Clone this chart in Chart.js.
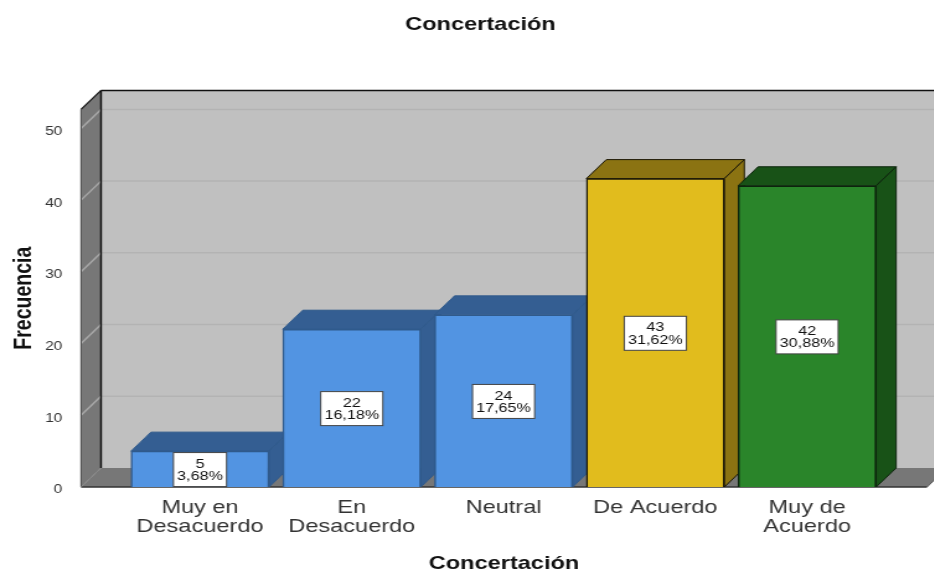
<!DOCTYPE html>
<html lang="es">
<head>
<meta charset="utf-8">
<title>Concertación</title>
<script src="https://cdn.jsdelivr.net/npm/chart.js@4"></script>
<style>
  html, body { margin: 0; background: #fff; }
  #wrap { width: 934px; height: 572px; overflow: hidden; }
  /* the reference is a picture stretched sideways, so the canvas is too */
  #chart { display: block; transform: scaleX(1.24); transform-origin: 0 0; }
</style>
</head>
<body>
<div id="wrap"><canvas id="chart" width="775" height="572"></canvas></div>
<script>
// --- Data ---
const categories = [['Muy en', 'Desacuerdo'], ['En', 'Desacuerdo'], 'Neutral', 'De Acuerdo', ['Muy de', 'Acuerdo']];
const counts = [5, 22, 24, 43, 42];
const percents = ['3,68%', '16,18%', '17,65%', '31,62%', '30,88%'];
const yTicks = [0, 10, 20, 30, 40, 50];

// --- Colours ---
const frontColors = ['#5294E2', '#5294E2', '#5294E2', '#E1BC1D', '#2A852A'];
const depthColors = ['#345E92', '#345E92', '#345E92', '#8B7312', '#185217'];
const edgeColors = ['#2F5A8C', '#2F5A8C', '#2F5A8C', '#1C1806', '#0C240C'];

const STRETCH = 1.24;
const DEPTH_X = 20 / STRETCH;
const DEPTH_Y = 19;
const SIDE_PAD = 27.4; // same on both sides so the main title sits right of the page centre

function polygon(c, points, fill, stroke) {
  c.beginPath();
  points.forEach((p, i) => i ? c.lineTo(p[0], p[1]) : c.moveTo(p[0], p[1]));
  c.closePath();
  c.fillStyle = fill;
  c.fill();
  if (stroke) {
    c.strokeStyle = stroke;
    c.lineWidth = 1;
    c.stroke();
  }
}

function line(c, x1, y1, x2, y2, color, width) {
  c.beginPath();
  c.moveTo(x1, y1);
  c.lineTo(x2, y2);
  c.strokeStyle = color;
  c.lineWidth = width;
  c.stroke();
}

// Walls and floor behind the bars, built from the scales
const box3d = {
  id: 'box3d',
  beforeDatasetsDraw(chart) {
    const c = chart.ctx;
    const { left, right, top, bottom } = chart.chartArea;
    const y = chart.scales.y;
    const backL = left + DEPTH_X, backR = right + DEPTH_X;
    const backT = top - DEPTH_Y, backB = bottom - DEPTH_Y;

    c.save();
    polygon(c, [[backL, backT], [backR, backT], [backR, backB], [backL, backB]], '#C0C0C0');
    polygon(c, [[left, top], [backL, backT], [backL, backB], [left, bottom]], '#777777');
    polygon(c, [[left, bottom], [backL, backB], [backR, backB], [right, bottom]], '#777777');

    yTicks.filter(t => t > 0).forEach(t => {
      const py = y.getPixelForValue(t);
      line(c, backL, py - DEPTH_Y, backR, py - DEPTH_Y, '#B3B3B3', 1.5);
      line(c, left, py, backL, py - DEPTH_Y, '#A8A8A8', 1.5);
    });

    line(c, backL, backT, backR, backT, '#111', 1.5);
    line(c, backL, backT, backL, backB, '#111', 1.5);
    line(c, left, top, backL, backT, '#111', 1.2);
    line(c, left, top, left, bottom, '#444', 1);
    line(c, left, bottom, right, bottom, '#333', 1.5);
    line(c, left, bottom, backL, backB, '#888', 1);
    line(c, right, bottom, right + DEPTH_X, backB, '#555', 1);

    // top and side of each bar, the fronts are drawn afterwards by Chart.js
    chart.getDatasetMeta(0).data.forEach((bar, i) => {
      const l = bar.x - bar.width / 2, r = bar.x + bar.width / 2;
      polygon(c, [[l, bar.y], [l + DEPTH_X, bar.y - DEPTH_Y], [r + DEPTH_X, bar.y - DEPTH_Y], [r, bar.y]], depthColors[i], edgeColors[i]);
      polygon(c, [[r, bar.y], [r + DEPTH_X, bar.y - DEPTH_Y], [r + DEPTH_X, bottom - DEPTH_Y], [r, bottom]], depthColors[i], edgeColors[i]);
    });
    c.restore();
  }
};

// White value boxes in the middle of the bars
const valueBoxes = {
  id: 'valueBoxes',
  afterDatasetsDraw(chart) {
    const c = chart.ctx;
    c.save();
    c.font = '13px "Liberation Sans", Arial, sans-serif';
    c.textAlign = 'center';
    c.textBaseline = 'middle';
    chart.getDatasetMeta(0).data.forEach((bar, i) => {
      const w = c.measureText(percents[i]).width + 6;
      const h = 34;
      const cy = (bar.y + bar.base) / 2 + 0.5;
      c.fillStyle = '#FFFFFF';
      c.fillRect(bar.x - w / 2, cy - h / 2, w, h);
      c.strokeStyle = '#444444';
      c.lineWidth = 1;
      c.strokeRect(bar.x - w / 2, cy - h / 2, w, h);
      c.fillStyle = '#111111';
      c.fillText(String(counts[i]), bar.x, cy - 5.5);
      c.fillText(percents[i], bar.x, cy + 7);
    });
    c.restore();
  }
};

new Chart(document.getElementById('chart'), {
  type: 'bar',
  data: {
    datasets: [{
      label: 'Frecuencia',
      data: counts.map((v, i) => ({ x: i, y: v })),
      backgroundColor: frontColors,
      borderColor: edgeColors,
      borderWidth: 1.5,
      barThickness: 138 / STRETCH
    }]
  },
  plugins: [box3d, valueBoxes],
  options: {
    responsive: false,
    devicePixelRatio: 1,
    animation: false,
    layout: { padding: { left: SIDE_PAD, right: SIDE_PAD, top: 0, bottom: 0 } },
    plugins: {
      legend: { display: false },
      tooltip: { enabled: false },
      title: {
        display: true,
        text: 'Concertación',
        color: '#111',
        font: { family: '"Liberation Sans", Arial, sans-serif', size: 19, weight: 'bold' },
        padding: { top: 13, bottom: 73.6 }
      }
    },
    scales: {
      x: {
        type: 'linear',
        offset: false,
        min: -0.784,
        max: 4.79,
        grid: { display: false },
        border: { display: false },
        afterBuildTicks: s => { s.ticks = categories.map((_, i) => ({ value: i })); },
        afterFit: s => { s.height = 85; },
        ticks: {
          autoSkip: false,
          maxRotation: 0,
          padding: 3,
          color: '#333',
          font: { family: '"Liberation Sans", Arial, sans-serif', size: 19, lineHeight: 1 },
          callback: v => categories[v]
        },
        title: {
          display: true,
          text: 'Concertación',
          color: '#111',
          font: { family: '"Liberation Sans", Arial, sans-serif', size: 19, weight: 'bold' },
          padding: { top: 0, bottom: -3 }
        }
      },
      y: {
        min: 0,
        max: 52.65,
        grid: { display: false },
        border: { display: false },
        afterBuildTicks: s => { s.ticks = yTicks.map(v => ({ value: v })); },
        afterFit: s => { s.width = 81 / STRETCH - SIDE_PAD; },
        ticks: {
          padding: 7,
          labelOffset: 3,
          color: '#333',
          font: { family: '"Liberation Sans", Arial, sans-serif', size: 12.5 }
        },
        title: {
          display: true,
          text: 'Frecuencia',
          color: '#111',
          font: { family: '"Liberation Sans", Arial, sans-serif', size: 19.5, weight: 'bold' },
          padding: { top: -19.8, bottom: 0 }
        }
      }
    }
  }
});
</script>
</body>
</html>
